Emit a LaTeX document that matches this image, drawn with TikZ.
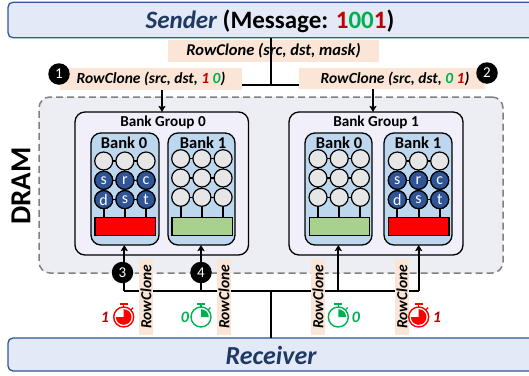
\documentclass[tikz,border=0pt]{standalone}
\usepackage{fontspec}
\setmainfont{Carlito}
\usetikzlibrary{arrows.meta,calc}
\definecolor{navy}{HTML}{1F3864}
\definecolor{endfill}{HTML}{E3E9F6}
\definecolor{endline}{HTML}{2F5597}
\definecolor{peach}{HTML}{FBE5D6}
\definecolor{txtred}{HTML}{C00000}
\definecolor{txtgreen}{HTML}{00B050}
\definecolor{dramfill}{HTML}{EDEEF3}
\definecolor{groupfill}{HTML}{F0EFFA}
\definecolor{bankfill}{HTML}{BDD7EE}
\definecolor{cellgrey}{HTML}{E7E6E6}
\definecolor{cellblue}{HTML}{2F5597}
\definecolor{bufgreen}{HTML}{A9D18E}
\tikzset{
  box/.style={inner sep=0pt,outer sep=0pt,anchor=center},
  endbox/.style={box,draw=endline,line width=1.3pt,fill=endfill,rounded corners=5pt},
  peachbox/.style={box,fill=peach,font=\fontsize{15.5}{15.5}\selectfont\bfseries\itshape},
  dram/.style={box,draw=black!50,line width=1.5pt,dash pattern=on 7pt off 4pt,fill=dramfill,rounded corners=11pt},
  bankgroup/.style={box,draw=black,line width=1.3pt,fill=groupfill,rounded corners=10pt},
  bank/.style={box,draw=black,line width=1.3pt,fill=bankfill,rounded corners=10pt},
  cell/.style={circle,draw=black,line width=1.2pt,minimum size=18pt,inner sep=0pt,outer sep=0pt,fill=cellgrey},
  bluecell/.style={cell,fill=cellblue,text=white,font=\fontsize{16}{16}\selectfont},
  buffer/.style={box,draw=black,line width=1.1pt,minimum width=60.5pt,minimum height=17.6pt},
  wire/.style={draw=black,line width=2pt},
  arrowwire/.style={wire,-{Stealth[length=6pt,width=7pt,inset=1pt]}},
  badge/.style={circle,fill=black,text=white,minimum size=21.5pt,inner sep=0pt,font=\fontsize{15}{15}\selectfont},
  grouplabel/.style={font=\fontsize{15.2}{15}\selectfont\bfseries},
  banklabel/.style={font=\fontsize{16.5}{16}\selectfont\bfseries},
  watchlabel/.style={font=\fontsize{16}{16}\selectfont\bfseries\itshape},
}
% cells: #1 name prefix, #2 first x, #3 first y, #4 blue lower rows (1) or not (0)
\newcommand{\cellgrid}[4]{%
  \foreach \c [count=\i] in {0,1,2}{
    \foreach \r [count=\j] in {0,1,2}{
      \pgfmathsetmacro{\cx}{#2+\c*21.2}
      \pgfmathsetmacro{\cy}{#3+\r*19.3}
      \node[cell] (#1-\i-\j) at (\cx,\cy) {};
    }
  }
  \foreach \i in {1,2,3}{\draw[line width=1.1pt,draw=black] (#1-\i-1)--(#1-\i-2) (#1-\i-2)--(#1-\i-3);}
  \foreach \j in {1,2,3}{\draw[line width=1.1pt,draw=black] (#1-1-\j)--(#1-2-\j) (#1-2-\j)--(#1-3-\j);}
  \ifnum#4=1
    \foreach \c/\r/\t in {0/1/s,1/1/r,2/1/c,0/2/d,1/2/s,2/2/t}{
      \pgfmathsetmacro{\cx}{#2+\c*21.2}
      \pgfmathsetmacro{\cy}{#3+\r*19.3}
      \node[bluecell] at (\cx,\cy) {\t};
    }
  \fi
}
% stopwatch: #1 name, #2 x, #3 y, #4 colour, #5 end angle of the pie
\newcommand{\stopwatch}[5]{%
  \coordinate (#1) at (#2,#3);
  \draw[#4,line width=1.4pt] (#1) circle[radius=10pt];
  \fill[#4] (#1) -- ++(0pt,7.8pt) arc[start angle=90,end angle=#5,radius=7.8pt] -- cycle;
  \draw[#4,line width=1.4pt] ($(#1)+(-4pt,13pt)$) -- ($(#1)+(4pt,13pt)$);
  \draw[#4,line width=1.4pt] ($(#1)+(0pt,13pt)$) -- ($(#1)+(0pt,10pt)$);
  \draw[#4,line width=1.2pt] ($(#1)+(7.2pt,7.2pt)$) -- ($(#1)+(9.4pt,9.4pt)$);
}
\begin{document}
\begin{tikzpicture}[x=1pt,y=-1pt]
\useasboundingbox (0,0) rectangle (529,375);
% end boxes
\node[endbox,minimum width=552pt,minimum height=35.5pt] (sender) at (284,20) {};
\node[endbox,minimum width=552pt,minimum height=33pt] (receiver) at (284,354.5) {};
\node[box,font=\fontsize{25}{25}\selectfont\bfseries] (title) at (270,21) {\textcolor{navy}{\itshape Sender} (Message: \textcolor{txtred}{1}\textcolor{txtgreen}{00}\textcolor{txtred}{1})};
\node[box,font=\fontsize{26}{26}\selectfont\bfseries\itshape,text=navy] (rcv) at (271,355) {Receiver};
% DRAM
\node[dram,minimum width=464pt,minimum height=176pt] (dram) at (271,185) {};
\node[box,rotate=90,font=\fontsize{29}{29}\selectfont\bfseries] (dramlabel) at (21,186) {DRAM};
% groups
\node[bankgroup,minimum width=173.5pt,minimum height=143pt] (g0) at (161.75,183.5) {};
\node[bankgroup,minimum width=174pt,minimum height=143pt] (g1) at (376,183.5) {};
\node[grouplabel] (g0l) at (163,122) {Bank Group 0};
\node[grouplabel] (g1l) at (376,122) {Bank Group 1};
% banks
\node[bank,minimum width=68pt,minimum height=112pt] (b00) at (125,189) {};
\node[bank,minimum width=67pt,minimum height=112pt] (b01) at (201.5,189) {};
\node[bank,minimum width=67pt,minimum height=112pt] (b10) at (338.5,189) {};
\node[bank,minimum width=68pt,minimum height=112pt] (b11) at (418,189) {};
\node[banklabel] (b00l) at (124,143) {Bank 0};
\node[banklabel] (b01l) at (203,143) {Bank 1};
\node[banklabel] (b10l) at (339,143) {Bank 0};
\node[banklabel] (b11l) at (418,143) {Bank 1};
% buffers
\node[buffer,fill=red] (r00) at (125.2,226.5) {};
\node[buffer,fill=bufgreen] (r01) at (202.2,226.5) {};
\node[buffer,fill=bufgreen] (r10) at (339.5,226.5) {};
\node[buffer,fill=red] (r11) at (418.7,226.5) {};
\cellgrid{a}{103.7}{161}{1}
\cellgrid{b}{180.7}{158.7}{0}
\cellgrid{c}{318}{158.7}{0}
\cellgrid{d}{397.3}{161}{1}
\foreach \p/\q in {a/r00,b/r01,c/r10,d/r11}{
  \foreach \i in {1,2,3}{\draw[wire] (\p-\i-3.south) -- (\p-\i-3.south |- \q.north);}
}
% top connectors
\node[peachbox,font=\fontsize{16.5}{16.5}\selectfont\bfseries\itshape,minimum width=211pt,minimum height=22pt] (mask) at (273.5,51) {RowClone (src, dst, mask)};
\coordinate (topjoin) at (270.5,85);
\draw[wire] (sender.south -| topjoin) -- (topjoin);
\node[peachbox,minimum width=182pt,minimum height=22pt] (left) at (151,79) {RowClone (src, dst, \textcolor{txtred}{1} \textcolor{txtgreen}{0})};
\node[peachbox,minimum width=186pt,minimum height=21pt] (right) at (392,78.5) {\hspace*{6pt}RowClone (src, dst, \textcolor{txtgreen}{0} \textcolor{txtred}{1})};
\draw[wire] (left.east |- topjoin) -- (right.west |- topjoin);
\coordinate (a0) at (162,100);
\coordinate (a1) at (373,100);
\draw[arrowwire] (left.south -| a0) -- (g0.north -| a0);
\draw[arrowwire] (right.south -| a1) -- (g1.north -| a1);
\node[badge] (n1) at (59,74) {1};
\node[badge] (n2) at (487,73) {2};
% bottom bus
\coordinate (busL) at (124.3,291);
\coordinate (busA) at (201,291);
\coordinate (busB) at (338.3,291);
\coordinate (busR) at (418.7,291);
\coordinate (busM) at (270.5,291);
\draw[wire] (busL) -- (busR);
\draw[wire] (busM) -- (receiver.north -| busM);
\draw[arrowwire] (busL) -- (busL |- b00.south);
\draw[arrowwire] (busA) -- (busA |- b01.south);
\draw[arrowwire] (busB) -- (busB |- b10.south);
\draw[arrowwire] (busR) -- (busR |- b11.south);
\node[badge] (n3) at (122.5,272.5) {3};
\node[badge] (n4) at (201,272.5) {4};
\foreach \n/\x in {v1/146,v2/224,v3/318,v4/402}{
  \node[peachbox,rotate=90,minimum width=76pt,minimum height=14pt] (\n) at (\x,297) {RowClone};
}
\stopwatch{w1}{123.7}{317}{red}{-180}
\stopwatch{w2}{201}{317}{txtgreen}{0}
\stopwatch{w3}{338.3}{317}{txtgreen}{0}
\stopwatch{w4}{418.7}{317}{red}{-180}
\node[watchlabel,text=txtred] (l1) at (105,317) {1};
\node[watchlabel,text=txtgreen] (l2) at (185,317) {0};
\node[watchlabel,text=txtgreen] (l3) at (356,317) {0};
\node[watchlabel,text=txtred] (l4) at (437,317) {1};
\end{tikzpicture}
\end{document}
